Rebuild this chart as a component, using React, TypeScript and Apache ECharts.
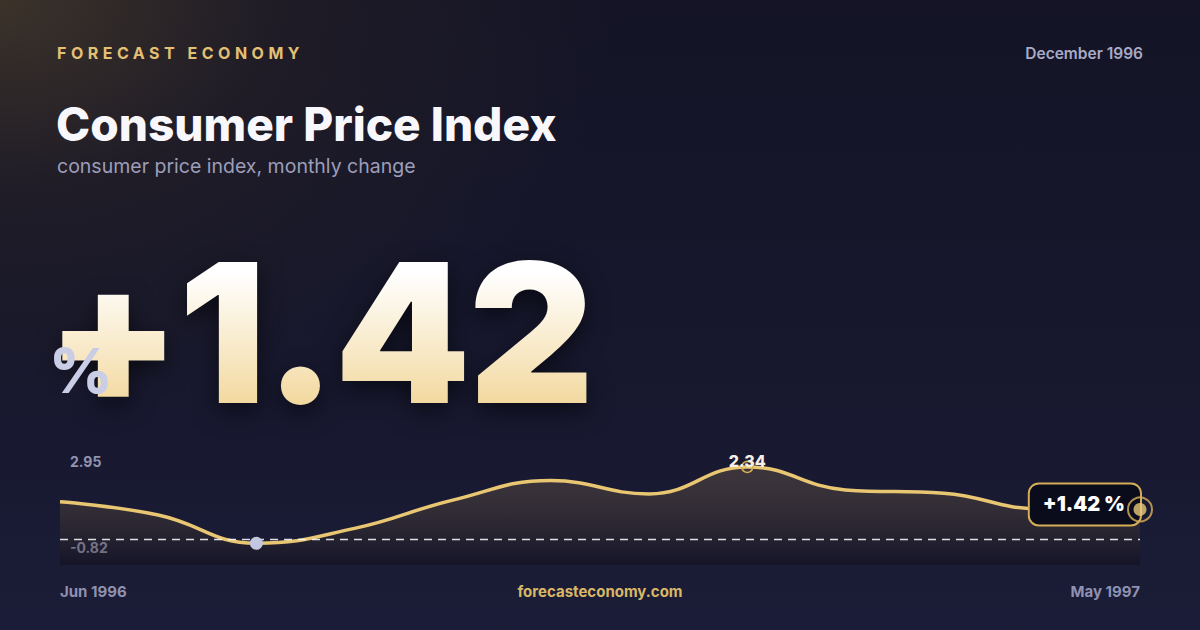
import React, { useEffect, useRef } from 'react';
import * as echarts from 'echarts';

const months = [
  'Jun 1996', 'Jul 1996', 'Aug 1996', 'Sep 1996', 'Oct 1996', 'Nov 1996',
  'Dec 1996', 'Jan 1997', 'Feb 1997', 'Mar 1997', 'Apr 1997', 'May 1997',
];
const cpiChange = [1.22, 0.79, -0.12, 0.36, 1.27, 1.9, 1.47, 2.34, 1.6, 1.49, 0.98, 0.97];
const yRange = [-0.82, 2.95];
const latestValue = 1.42;
const periodLabel = 'December 1996';

const FONT = 'Inter, "Noto Sans", sans-serif';

const App: React.FC = () => {
  const chartRef = useRef<HTMLDivElement>(null);

  useEffect(() => {
    if (!chartRef.current) return;
    const chart = echarts.init(chartRef.current, null, { renderer: 'svg' });
    const lastIdx = cpiChange.length - 1;
    const lastVal = cpiChange[lastIdx];

    const option: echarts.EChartsOption = {
      animation: false,
      backgroundColor: 'transparent',
      grid: { left: 60, right: 60, top: 448, bottom: 65 },
      xAxis: {
        type: 'category',
        data: months,
        boundaryGap: false,
        axisLine: { show: false },
        axisTick: { show: false },
        splitLine: { show: false },
        axisLabel: {
          interval: (i: number) => i === 0 || i === months.length - 1,
          alignMinLabel: 'left',
          alignMaxLabel: 'right',
          margin: 19,
          color: '#8f91b1',
          fontFamily: FONT,
          fontWeight: 700,
          fontSize: 15,
        },
      },
      yAxis: {
        type: 'value',
        min: yRange[0],
        max: yRange[1],
        axisLine: { show: false },
        axisTick: { show: false },
        splitLine: { show: false },
        axisLabel: {
          inside: true,
          margin: 10,
          showMinLabel: true,
          showMaxLabel: true,
          formatter: (v: number) => {
            if (v === yRange[1]) return '{top|' + v.toFixed(2) + '}';
            if (v === yRange[0]) return '{bot|' + v.toFixed(2) + '}';
            return '';
          },
          rich: {
            top: { lineHeight: 40, verticalAlign: 'bottom', color: '#9193b2', fontFamily: FONT, fontWeight: 700, fontSize: 14 },
            bot: { lineHeight: 50, verticalAlign: 'top', color: '#9193b2', fontFamily: FONT, fontWeight: 700, fontSize: 14 },
          },
        },
      },
      series: [
        {
          type: 'line',
          data: cpiChange,
          smooth: 0.45,
          showSymbol: false,
          lineStyle: { color: '#e8c672', width: 3.5 },
          areaStyle: {
            origin: 'start',
            color: new echarts.graphic.LinearGradient(0, 0, 0, 1, [
              { offset: 0, color: 'rgba(214,170,100,0.27)' },
              { offset: 1, color: 'rgba(8,7,12,0.45)' },
            ]),
          },
          markLine: {
            silent: true,
            symbol: ['none', 'none'],
            label: { show: false },
            lineStyle: { color: 'rgba(255,255,255,0.85)', type: [8, 6], width: 1.3 },
            data: [{ yAxis: 0 }],
          },
          markPoint: {
            data: [
              {
                type: 'min',
                symbol: 'circle',
                symbolSize: 13,
                itemStyle: { color: '#c2c6de' },
                label: { show: false },
              },
              {
                type: 'max',
                symbol: 'circle',
                symbolSize: 11,
                itemStyle: { color: 'rgba(0,0,0,0)', borderColor: '#d4aa52', borderWidth: 1.5 },
                label: {
                  show: true,
                  position: 'inside',
                  offset: [0, -6],
                  formatter: (p: any) => Number(p.value).toFixed(2),
                  color: '#f4efe6',
                  fontFamily: FONT,
                  fontWeight: 800,
                  fontSize: 16,
                },
              },
              {
                coord: [lastIdx, lastVal],
                symbol: 'circle',
                symbolSize: 0,
                label: {
                  show: true,
                  position: 'left',
                  distance: 0,
                  offset: [0, -5],
                  formatter: '+' + latestValue.toFixed(2) + ' %',
                  color: '#ffffff',
                  fontFamily: FONT,
                  fontWeight: 900,
                  fontSize: 20,
                  lineHeight: 20,
                  backgroundColor: '#0b0c1b',
                  borderColor: '#d5ad57',
                  borderWidth: 2,
                  borderRadius: 9,
                  padding: [10, 15, 10, 13],
                },
              },
            ],
          },
        },
        {
          type: 'scatter',
          z: 10,
          data: [
            {
              value: [lastIdx, lastVal],
              symbolSize: 24,
              itemStyle: { color: 'rgba(0,0,0,0)', borderColor: '#d9b25a', borderWidth: 2 },
            },
            {
              value: [lastIdx, lastVal],
              symbolSize: 13,
              itemStyle: { color: '#e9c878' },
            },
          ],
        },
      ],
    };

    chart.setOption(option);
    return () => {
      chart.dispose();
    };
  }, []);

  const abs = (s: React.CSSProperties): React.CSSProperties => ({
    position: 'absolute',
    whiteSpace: 'nowrap',
    fontFamily: FONT,
    margin: 0,
    ...s,
  });

  return (
    <div
      style={{
        position: 'fixed',
        left: 0,
        top: 0,
        width: 1200,
        height: 630,
        overflow: 'hidden',
        background:
          'radial-gradient(ellipse 620px 420px at 0% 0%, rgba(62,52,42,0.95) 0%, rgba(40,34,38,0.55) 45%, rgba(20,20,40,0) 100%), linear-gradient(180deg, #141426 0%, #16172c 50%, #1b1c37 100%)',
      }}
    >
      <div style={abs({ left: 57, top: 43, lineHeight: '20px', fontSize: 16, fontWeight: 700, letterSpacing: 4.5, color: '#e3c073' })}>
        FORECAST ECONOMY
      </div>
      <div style={abs({ right: 57, top: 44, lineHeight: '20px', fontSize: 15.5, fontWeight: 600, color: '#a8aac6' })}>
        {periodLabel}
      </div>
      <div style={abs({ left: 56, top: 99, lineHeight: '50px', fontSize: 46, fontWeight: 800, color: '#f8f8fc', letterSpacing: 0 })}>
        Consumer Price Index
      </div>
      <div style={abs({ left: 57, top: 154, lineHeight: '24px', fontSize: 19.5, fontWeight: 400, color: '#9c9eba' })}>
        consumer price index, monthly change
      </div>
      <div
        style={abs({
          left: 46,
          top: 233,
          lineHeight: '200px',
          fontSize: 194,
          fontWeight: 900,
          letterSpacing: -2,
          backgroundImage: 'linear-gradient(180deg, #ffffff 20%, #f3d9a0 85%)',
          WebkitBackgroundClip: 'text',
          backgroundClip: 'text',
          color: 'transparent',
          filter: 'drop-shadow(0px 8px 12px rgba(0,0,0,0.55))',
        })}
      >
        +{latestValue.toFixed(2)}
      </div>
      <div style={abs({ left: 49, top: 336, lineHeight: '70px', fontSize: 62, fontWeight: 800, color: '#c9cde6' })}>
        %
      </div>
      <div ref={chartRef} style={{ position: 'absolute', left: 0, top: 0, width: 1200, height: 630 }} />
      <div style={abs({ left: 0, width: 1200, textAlign: 'center', top: 582, lineHeight: '20px', fontSize: 15, fontWeight: 700, color: '#d8b866' })}>
        forecasteconomy.com
      </div>
    </div>
  );
};

export default App;
